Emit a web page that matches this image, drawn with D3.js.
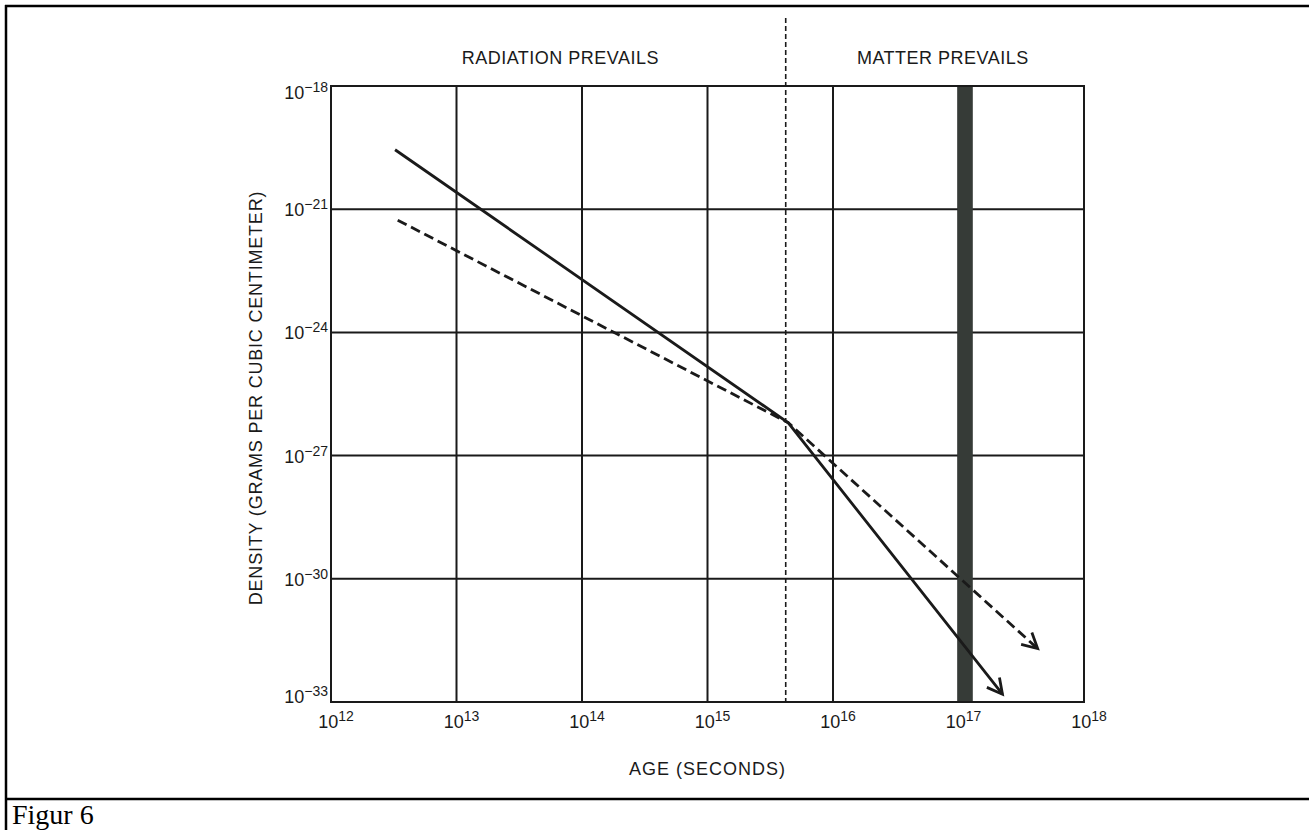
<!DOCTYPE html>
<html>
<head>
<meta charset="utf-8">
<script src="https://cdn.jsdelivr.net/npm/d3@7"></script>
<style>
  body { margin: 0; background: #fff; }
  svg text { font-family: 'Liberation Sans', Arial, sans-serif; fill: #1a1a1a; }
  .caption { font-family: 'Liberation Serif', 'Times New Roman', serif; }
</style>
</head>
<body>
<svg id="chart-svg" width="1309" height="830"></svg>
<script>
// age in seconds, density in grams per cubic centimeter
const X_TICKS = [1e12, 1e13, 1e14, 1e15, 1e16, 1e17, 1e18];
const Y_TICKS = [1e-33, 1e-30, 1e-27, 1e-24, 1e-21, 1e-18];

const SOLID_AGE = [3.24e12, 4.4e15, 2.24e17];
const SOLID_DENSITY = [2.8e-20, 6.3e-27, 1.55e-33];
const DASHED_AGE = [3.4e12, 4.4e15, 4.27e17];
const DASHED_DENSITY = [5.4e-22, 6.3e-27, 2.0e-32];

const DIVIDER_AGE = 4.2e15;
const BAND_AGE = [9.8e16, 1.3e17];

const ERA_LABELS = ['RADIATION PREVAILS', 'MATTER PREVAILS'];
const X_TITLE = 'AGE (SECONDS)';
const Y_TITLE = 'DENSITY (GRAMS PER CUBIC CENTIMETER)';
const CAPTION = 'Figur 6';

let svg = d3.select('#chart-svg');

const margin = { left: 331, right: 1084, top: 86, bottom: 702 };
const x = d3.scaleLog().domain([1e12, 1e18]).range([margin.left, margin.right]);
const y = d3.scaleLog().domain([1e-33, 1e-18]).range([margin.bottom, margin.top]);

// page frame (table-like cell around the figure and caption)
let frame = svg.append('g').attr('stroke', '#000').attr('stroke-width', 2.5);
frame.append('line').attr('x1', 5).attr('x2', 1309).attr('y1', 6).attr('y2', 6);
frame.append('line').attr('x1', 6).attr('x2', 6).attr('y1', 5).attr('y2', 830);
frame.append('line').attr('x1', 5).attr('x2', 1309).attr('y1', 799).attr('y2', 799);
svg.append('text')
	.attr('class', 'caption')
	.attr('x', 12)
	.attr('y', 824)
	.attr('font-size', 28)
	.style('fill', '#000')
	.text(CAPTION);

// grid
let grid = svg.append('g').attr('stroke', '#1a1a1a').attr('stroke-width', 2);
grid.selectAll('.vgrid')
	.data(X_TICKS)
	.enter()
	.append('line')
	.attr('x1', (d) => x(d))
	.attr('x2', (d) => x(d))
	.attr('y1', margin.top)
	.attr('y2', margin.bottom);
grid.selectAll('.hgrid')
	.data(Y_TICKS)
	.enter()
	.append('line')
	.attr('x1', margin.left)
	.attr('x2', margin.right)
	.attr('y1', (d) => y(d))
	.attr('y2', (d) => y(d));

// dark band around 10^17 s
svg.append('rect')
	.attr('x', x(BAND_AGE[0]))
	.attr('y', margin.top)
	.attr('width', x(BAND_AGE[1]) - x(BAND_AGE[0]))
	.attr('height', margin.bottom - margin.top)
	.attr('fill', '#363b37');

// radiation / matter divider
svg.append('line')
	.attr('x1', x(DIVIDER_AGE))
	.attr('x2', x(DIVIDER_AGE))
	.attr('y1', 18)
	.attr('y2', margin.bottom)
	.attr('stroke', '#1a1a1a')
	.attr('stroke-width', 1.6)
	.attr('stroke-dasharray', '5,3');

// era labels, centered in each region
const eraCenters = [
	(margin.left + x(DIVIDER_AGE)) / 2 + 2,
	(x(DIVIDER_AGE) + margin.right) / 2 + 8
];
svg.selectAll('.era')
	.data(ERA_LABELS)
	.enter()
	.append('text')
	.attr('x', (d, i) => eraCenters[i])
	.attr('y', 64)
	.attr('text-anchor', 'middle')
	.attr('font-size', 18)
	.style('letter-spacing', '0.5px')
	.text((d) => d);

// tick labels: 10 with superscript exponent
function powerLabel(sel, exp) {
	sel.append('tspan').text('10');
	sel.append('tspan').attr('font-size', 14).attr('dy', -7).text(exp);
}
svg.selectAll('.xlab')
	.data(X_TICKS)
	.enter()
	.append('text')
	.attr('x', (d) => x(d) + 5)
	.attr('y', 728)
	.attr('text-anchor', 'middle')
	.attr('font-size', 18)
	.each(function (d) {
		powerLabel(d3.select(this), String(Math.round(Math.log10(d))));
	});
svg.selectAll('.ylab')
	.data(Y_TICKS)
	.enter()
	.append('text')
	.attr('x', 328)
	.attr('y', (d) => Math.min(Math.max(y(d) + 7, margin.top + 13), margin.bottom + 1))
	.attr('text-anchor', 'end')
	.attr('font-size', 18)
	.each(function (d) {
		powerLabel(d3.select(this), '\u2212' + String(Math.round(-Math.log10(d))));
	});

// axis titles
svg.append('text')
	.attr('x', (margin.left + margin.right) / 2)
	.attr('y', 775)
	.attr('text-anchor', 'middle')
	.attr('font-size', 18)
	.style('letter-spacing', '1px')
	.text(X_TITLE);
svg.append('text')
	.attr('transform', 'translate(262,' + ((margin.top + margin.bottom) / 2 + 4) + ') rotate(-90)')
	.attr('text-anchor', 'middle')
	.attr('font-size', 18)
	.style('letter-spacing', '0.8px')
	.text(Y_TITLE);

// open arrowhead marker
svg.append('defs')
	.append('marker')
	.attr('id', 'arrow')
	.attr('markerUnits', 'userSpaceOnUse')
	.attr('markerWidth', 32)
	.attr('markerHeight', 32)
	.attr('refX', 16)
	.attr('refY', 16)
	.attr('orient', 'auto')
	.append('path')
	.attr('d', 'M1,8 L16,16 L1,24')
	.attr('fill', 'none')
	.attr('stroke', '#1a1a1a')
	.attr('stroke-width', 2.8);

// density curves
const line = d3.line().x((d) => x(d[0])).y((d) => y(d[1]));
const solidPts = SOLID_AGE.map((a, i) => [a, SOLID_DENSITY[i]]);
const dashedPts = DASHED_AGE.map((a, i) => [a, DASHED_DENSITY[i]]);

svg.append('path')
	.datum(solidPts)
	.attr('d', line)
	.attr('fill', 'none')
	.attr('stroke', '#1a1a1a')
	.attr('stroke-width', 2.8)
	.attr('marker-end', 'url(#arrow)');
svg.append('path')
	.datum(dashedPts)
	.attr('d', line)
	.attr('fill', 'none')
	.attr('stroke', '#1a1a1a')
	.attr('stroke-width', 2.8)
	.attr('stroke-dasharray', '10,5')
	.attr('marker-end', 'url(#arrow)');

// plot border on top
svg.append('rect')
	.attr('x', margin.left)
	.attr('y', margin.top)
	.attr('width', margin.right - margin.left)
	.attr('height', margin.bottom - margin.top)
	.attr('fill', 'none')
	.attr('stroke', '#1a1a1a')
	.attr('stroke-width', 2);
</script>
</body>
</html>
